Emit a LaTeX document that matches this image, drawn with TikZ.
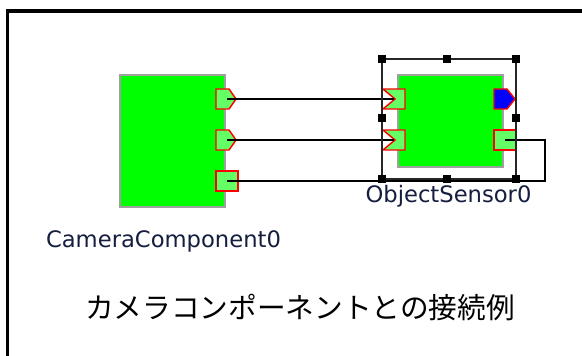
\documentclass[tikz,border=0pt]{standalone}
\usepackage{fontspec}
\setmainfont{DejaVu Sans}
\newfontfamily\jpfont{Noto Sans CJK JP}
\usetikzlibrary{fit}
\definecolor{rtcgreen}{RGB}{0,255,0}
\definecolor{portgreen}{RGB}{100,255,100}
\definecolor{bodyedge}{RGB}{160,160,160}
\definecolor{labelink}{RGB}{22,30,64}
\begin{document}
\begin{tikzpicture}[x=0.75pt,y=-0.75pt,
  body/.style={draw=bodyedge, fill=rtcgreen, line width=1.2pt, inner sep=0pt},
  port/.style={draw=red, fill=portgreen, line width=1.1pt},
  outblue/.style={draw=red, fill=blue, line width=1.1pt},
  wire/.style={draw=black, line width=1.1pt},
  selframe/.style={draw=black!85, line width=1.7pt},
  handle/.style={fill=black, minimum size=6pt, inner sep=0pt},
  compname/.style={text=labelink, font=\fontsize{17}{20}\selectfont, inner sep=0pt},
  caption/.style={font=\jpfont\fontsize{21.5}{26}\selectfont, inner sep=0pt}]
\useasboundingbox (0,0) rectangle (582,356);
\clip (0,0) rectangle (582,356);
\fill[white] (0,0) rectangle (582,356);
% outer frame (runs off the right and bottom edges)
\draw[line width=2.5pt] (7.5,11) rectangle (640,420);

% component bodies
\node[body, fit={(120,75) (225,207)}] (cam) {};
\node[body, fit={(398,75) (503,167)}] (sensor) {};

% CameraComponent0 ports
\draw[port] (216,89) -- (229,89) -- (236,99) -- (229,109) -- (216,109) -- cycle;
\coordinate (camout1) at (227,99);
\draw[port] (216,130) -- (229,130) -- (236,140) -- (229,150) -- (216,150) -- cycle;
\coordinate (camout2) at (227,140);
\draw[port] (216,171) rectangle (238,191);
\coordinate (camsvc) at (227,181);

% ObjectSensor0 ports
\draw[port] (383,89) -- (405,89) -- (405,109) -- (383,109) -- (395,99) -- cycle;
\coordinate (senin1) at (394,99);
\draw[port] (383,130) -- (405,130) -- (405,150) -- (383,150) -- (395,140) -- cycle;
\coordinate (senin2) at (394,140);
\draw[outblue] (494,89) -- (507,89) -- (515,99) -- (507,109) -- (494,109) -- cycle;
\draw[port] (494,130) rectangle (516,150);
\coordinate (sensvc) at (505,140);

% connectors
\draw[wire] (camout1) -- (senin1);
\draw[wire] (camout2) -- (senin2);
\coordinate (loopA) at (545,181);
\coordinate (loopB) at (545,140);
\draw[wire] (camsvc) -- (loopA) -- (loopB) -- (sensvc);

% selection frame with handles
\draw[selframe] (382,59) rectangle (516,179);
\node[handle] (h1) at (382,59) {};
\node[handle] (h2) at (447,59) {};
\node[handle] (h3) at (516,59) {};
\node[handle] (h4) at (382,118) {};
\node[handle] (h5) at (516,118) {};
\node[handle] (h6) at (382,179) {};
\node[handle] (h7) at (447,179) {};
\node[handle] (h8) at (516,179) {};

% labels
\node[compname] (camname) at (163.5,241) {CameraComponent0};
\node[compname] (senname) at (448.5,196) {ObjectSensor0};
\node[caption] (cap) at (300,308) {カメラコンポーネントとの接続例};
\end{tikzpicture}
\end{document}
